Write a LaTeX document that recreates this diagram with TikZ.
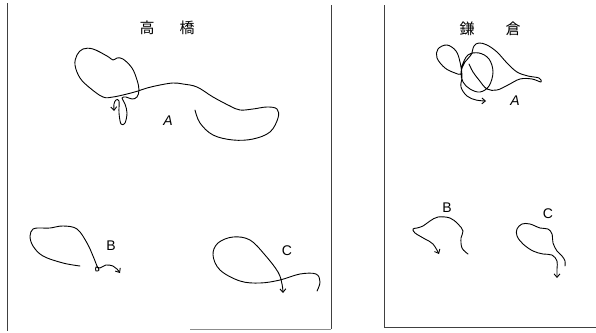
\documentclass[tikz,border=0pt]{standalone}
\usepackage{fontspec}
\setmainfont{Liberation Sans}
\newfontfamily\jpfont{Noto Sans CJK JP}
\usetikzlibrary{arrows.meta}
\tikzset{
 stroke/.style={line width=0.9pt, line cap=round, line join=round},
 hand/.style={stroke, -{Straight Barb[length=3.5pt,width=6pt]}},
 frame/.style={line width=0.8pt, draw=black!75},
 faint/.style={line width=0.8pt, draw=black!45},
 title/.style={font=\jpfont\fontsize{15}{15}\selectfont, inner sep=0},
 lbl/.style={font=\fontsize{14}{14}\selectfont, inner sep=0},
}
\begin{document}
\begin{tikzpicture}[x=1pt,y=-1pt]
\useasboundingbox (0,0) rectangle (596,332);
% frames
\coordinate (l1) at (7,3);   \coordinate (l2) at (7,331);
\coordinate (r1) at (331,5); \coordinate (r2) at (331,329);
\coordinate (b1) at (190,329);
\draw[frame] (l1) -- (l2);
\draw[frame] (r1) -- (r2);
\draw[faint] (b1) -- (r2);
\coordinate (k1) at (384,5); \coordinate (k2) at (384,327);
\coordinate (k3) at (596,327);
\draw[frame] (k1) -- (k2) -- (k3);
% titles
\node[title] (t1) at (147,28) {高};
\node[title] (t2) at (187,28) {橋};
\node[title] (t3) at (467,29) {鎌};
\node[title] (t4) at (513,29) {倉};
% labels
\node[lbl] (la) at (168,121) {\textit{A}};
\node[lbl] (lb) at (111,246) {B};
\node[lbl] (lc) at (287,251) {C};
\node[lbl] (ra) at (515,101) {\textit{A}};
\node[lbl] (rb) at (447,208) {B};
\node[lbl] (rc) at (548,214) {C};
% left A
\draw[hand] plot[smooth, tension=0.6] coordinates {
 (195,110) (200,123) (213,135) (233,140) (253,139) (270,132) (278,118)
 (277,109) (267,107) (253,109) (240,110) (230,106) (213,97) (197,87)
 (183,84) (173,83) (160,85) (147,88) (138,91) (127,94) (113,97) (103,97)
 (90,88) (80,78) (75,65) (77,55) (83,49) (93,49) (107,56) (113,60) (117,58)
 (123,59) (132,68) (137,80) (139,90) (137,97) (132,99) (126,97) (122,98)
 (125,104) (127,113) (125,123) (121,124) (119,113) (119,101) (116,100)
 (114,104) (114,111)};
% left B
\draw[hand] plot[smooth, tension=0.6] coordinates {
 (80,266) (63,263) (43,256) (33,246) (30,236) (33,229) (40,228) (50,228)
 (63,226) (77,229) (87,243) (93,256) (97,266) (99,270) (96,271) (96,267)
 (100,268) (106,265) (113,266) (117,269) (120,273)};
% left C
\draw[hand] plot[smooth, tension=0.6] coordinates {
 (317,291) (320,282) (316,274) (300,274) (280,280) (260,283) (240,281)
 (220,270) (213,255) (218,243) (233,237) (250,240) (265,255) (278,272)
 (282,284) (283,293)};
% right A
\draw[hand] plot[smooth, tension=0.6] coordinates {
 (469,64) (473,72) (479,80) (487,89) (497,90) (508,85) (520,79) (532,79)
 (541,82) (539,78) (528,76) (517,72) (507,63) (497,52) (487,45) (479,43)
 (474,46) (471,55) (465,62) (461,72) (463,82) (470,89) (480,92) (489,86)
 (493,72) (489,59) (479,53) (468,55) (462,66) (461,74) (455,73) (445,68)
 (437,58) (438,49) (447,45) (456,51) (460,62) (462,76) (461,87) (467,96)
 (476,100) (486,101)};
% right B
\draw[hand] plot[smooth, tension=0.6] coordinates {
 (468,254) (462,248) (461,238) (463,231) (458,224) (450,218) (438,217)
 (430,221) (423,226) (417,228) (413,229) (415,233) (425,239) (433,244)
 (439,254)};
% right C
\draw[hand] plot[smooth, tension=0.6] coordinates {
 (565,266) (565,261) (562,256) (557,251) (553,243) (552,234) (548,229)
 (540,228) (530,224) (522,224) (517,229) (517,236) (523,244) (533,251)
 (543,254) (552,255) (557,261) (557,269) (557,278)};
\end{tikzpicture}
\end{document}
